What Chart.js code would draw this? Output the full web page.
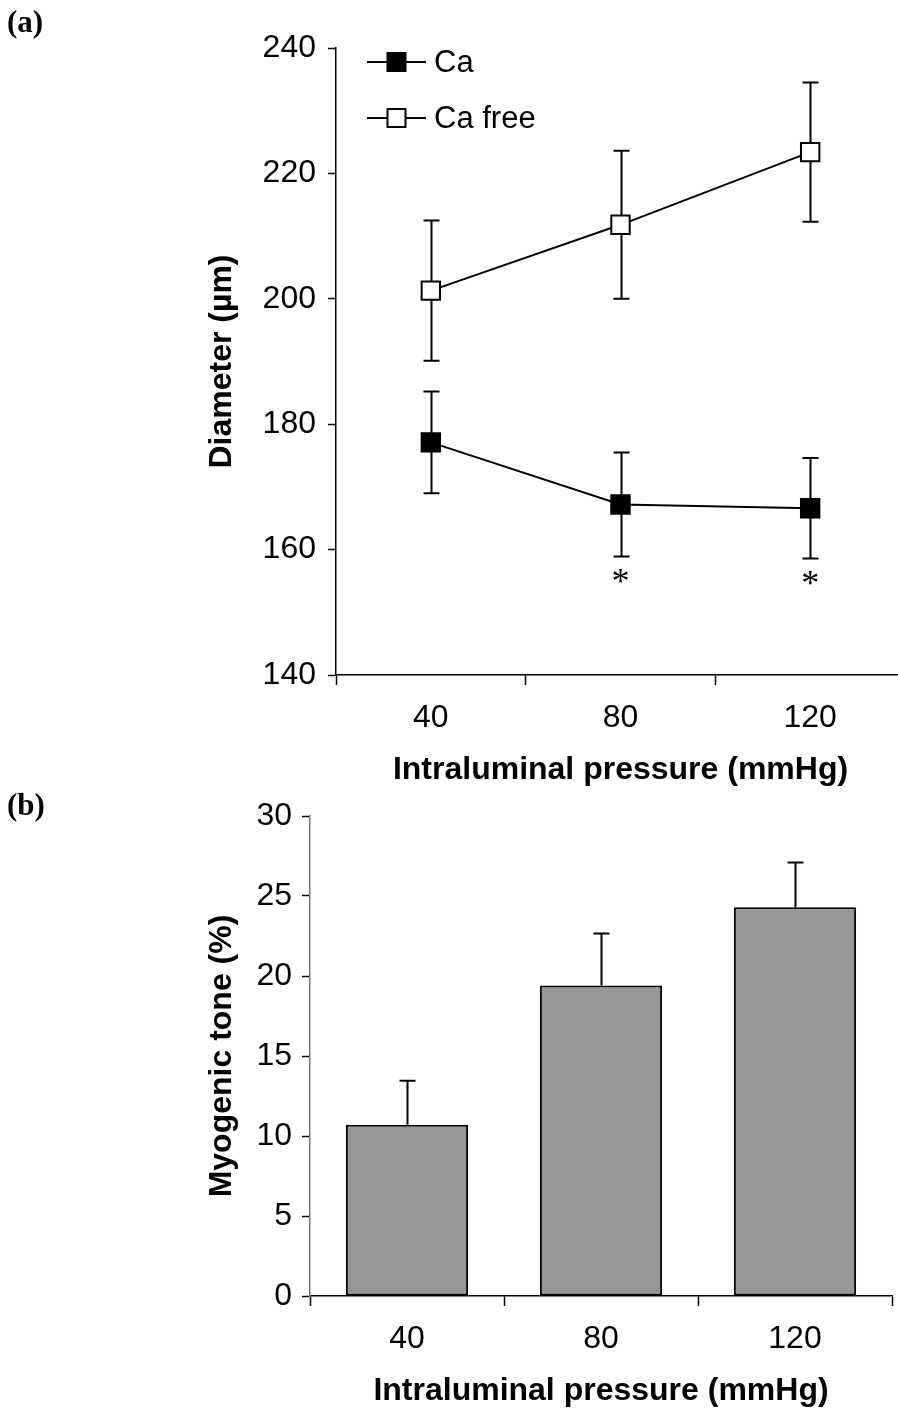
<!DOCTYPE html>
<html>
<head>
<meta charset="utf-8">
<script src="https://cdn.jsdelivr.net/npm/chart.js@4.4.1/dist/chart.umd.min.js"></script>
<style>
  html, body { margin: 0; padding: 0; background: #fff; overflow: hidden; }
  body { width: 898px; height: 1411px; position: relative; }
  canvas { position: absolute; left: 0; }
  #chartA { top: 0; }
  #chartB { top: 780px; }
  .panel {
    position: absolute;
    font-family: "Liberation Serif", "Times New Roman", serif;
    font-weight: bold;
    font-size: 31px;
    color: #000;
    line-height: 1;
  }
</style>
</head>
<body>
<canvas id="chartA" width="920" height="800"></canvas>
<canvas id="chartB" width="898" height="631"></canvas>
<div class="panel" style="left:7px; top:6px;">(a)</div>
<div class="panel" style="left:7px; top:789px;">(b)</div>

<script>
// ---- data ----
const pressureLabels = ['40', '80', '120'];

// (a) vessel diameter, mean and SEM
const caMean      = [177.1, 167.2, 166.6];
const caSem       = [8.1, 8.3, 8.0];
const caFreeMean  = [201.3, 211.8, 223.4];
const caFreeSem   = [11.2, 11.8, 11.1];
const caSignificant = [false, true, true];

const diameterMin = 140, diameterMax = 240, diameterStep = 20;

// (b) myogenic tone, mean and SEM
const toneMean = [10.7, 19.4, 24.3];
const toneSem  = [2.75, 3.25, 2.8];

const toneMin = 0, toneMax = 30, toneStep = 5;

// ---- shared styling ----
const SANS = '"Liberation Sans", Arial, Helvetica, sans-serif';
const SERIF = '"Liberation Serif", "Times New Roman", serif';
const tickFont = { family: SANS, size: 32 };
const titleFont = { family: SANS, size: 32, weight: 'bold' };

// Error bars: vertical whisker with caps
const errorBarPlugin = {
  id: 'errorBars',
  beforeDatasetsDraw(chart) {
    const cfg = chart.options.plugins.errorBars;
    if (!cfg || cfg.layer !== 'before') return;
    drawErrorBars(chart, cfg);
  },
  afterDatasetsDraw(chart) {
    const cfg = chart.options.plugins.errorBars;
    if (!cfg || cfg.layer !== 'after') return;
    drawErrorBars(chart, cfg);
  }
};

function drawErrorBars(chart, cfg) {
  const ctx = chart.ctx;
  const yScale = chart.scales.y;
  ctx.save();
  ctx.strokeStyle = '#000';
  ctx.lineWidth = cfg.lineWidth;
  ctx.lineCap = 'butt';
  chart.data.datasets.forEach((ds, di) => {
    const sem = cfg.sem[di];
    if (!sem) return;
    const meta = chart.getDatasetMeta(di);
    meta.data.forEach((el, i) => {
      const x = Math.round(el.x) + 0.5;
      const m = ds.data[i];
      const yHi = yScale.getPixelForValue(m + sem[i]);
      const yLo = cfg.upperOnly ? yScale.getPixelForValue(m) : yScale.getPixelForValue(m - sem[i]);
      ctx.beginPath();
      ctx.moveTo(x, yHi);
      ctx.lineTo(x, yLo);
      ctx.moveTo(x - cfg.capHalf, yHi);
      ctx.lineTo(x + cfg.capHalf, yHi);
      if (!cfg.upperOnly) {
        ctx.moveTo(x - cfg.capHalf, yLo);
        ctx.lineTo(x + cfg.capHalf, yLo);
      }
      ctx.stroke();
    });
  });
  ctx.restore();
}

// Significance asterisks under the Ca series
const asteriskPlugin = {
  id: 'asterisks',
  afterDatasetsDraw(chart) {
    const cfg = chart.options.plugins.asterisks;
    if (!cfg) return;
    const ctx = chart.ctx;
    const yScale = chart.scales.y;
    const meta = chart.getDatasetMeta(cfg.dataset);
    ctx.save();
    ctx.fillStyle = '#000';
    ctx.font = '36px ' + SERIF;
    ctx.textAlign = 'center';
    ctx.textBaseline = 'alphabetic';
    cfg.flags.forEach((flag, i) => {
      if (!flag) return;
      const el = meta.data[i];
      const y = yScale.getPixelForValue(caMean[i] - caSem[i]);
      ctx.fillText('*', el.x, y + 37);
    });
    ctx.restore();
  }
};

// Legend with a line through each marker, placed inside the plot area
const lineLegendPlugin = {
  id: 'lineLegend',
  afterDraw(chart) {
    const cfg = chart.options.plugins.lineLegend;
    if (!cfg) return;
    const ctx = chart.ctx;
    const area = chart.chartArea;
    ctx.save();
    chart.data.datasets.forEach((ds, i) => {
      const y = area.top + cfg.firstRow + i * cfg.rowGap;
      const x0 = area.left + cfg.lineStart;
      const x1 = x0 + cfg.lineLength;
      const cx = (x0 + x1) / 2;
      ctx.strokeStyle = '#000';
      ctx.lineWidth = 2;
      ctx.beginPath();
      ctx.moveTo(x0, y);
      ctx.lineTo(x1, y);
      ctx.stroke();
      const s = cfg.marker;
      ctx.fillStyle = ds.pointBackgroundColor;
      ctx.fillRect(cx - s / 2, y - s / 2, s, s);
      ctx.strokeRect(cx - s / 2, y - s / 2, s, s);
      ctx.fillStyle = '#000';
      ctx.font = cfg.fontSize + 'px ' + SANS;
      ctx.textAlign = 'left';
      ctx.textBaseline = 'middle';
      ctx.fillText(ds.label, x1 + cfg.textGap, y + 1);
    });
    ctx.restore();
  }
};

function axisGrid(tickLength) {
  return {
    display: true,
    drawOnChartArea: false,
    drawTicks: true,
    tickLength: tickLength,
    tickColor: '#000',
    tickWidth: 1.5
  };
}

// ---- (a) diameter vs pressure ----
new Chart(document.getElementById('chartA'), {
  type: 'line',
  data: {
    labels: pressureLabels,
    datasets: [
      {
        label: 'Ca',
        data: caMean,
        borderColor: '#000',
        borderWidth: 2,
        pointStyle: 'rect',
        pointRadius: 13,
        pointBorderWidth: 2,
        pointBorderColor: '#000',
        pointBackgroundColor: '#000',
        tension: 0,
        fill: false
      },
      {
        label: 'Ca free',
        data: caFreeMean,
        borderColor: '#000',
        borderWidth: 2,
        pointStyle: 'rect',
        pointRadius: 13,
        pointBorderWidth: 2,
        pointBorderColor: '#000',
        pointBackgroundColor: '#fff',
        tension: 0,
        fill: false
      }
    ]
  },
  options: {
    responsive: false,
    animation: false,
    events: [],
    layout: { padding: { left: 0, top: 48, right: 14, bottom: 0 } },
    plugins: {
      legend: { display: false },
      tooltip: { enabled: false },
      errorBars: { sem: [caSem, caFreeSem], capHalf: 8, lineWidth: 2, upperOnly: false, layer: 'before' },
      asterisks: { dataset: 0, flags: caSignificant },
      lineLegend: { firstRow: 14, rowGap: 56, lineStart: 31, lineLength: 59, marker: 18, textGap: 8, fontSize: 31 }
    },
    scales: {
      x: {
        type: 'category',
        offset: true,
        grid: Object.assign(axisGrid(10), { offset: true }),
        border: { display: true, color: '#000', width: 1.5 },
        ticks: { color: '#000', font: tickFont, padding: 14, maxRotation: 0 },
        title: { display: true, text: 'Intraluminal pressure (mmHg)', color: '#000', font: titleFont, padding: { top: 0, bottom: 11 } },
        afterFit(scale) { scale.height = 125; }
      },
      y: {
        min: diameterMin,
        max: diameterMax,
        ticks: { stepSize: diameterStep, color: '#000', font: tickFont, padding: 12 },
        grid: axisGrid(8),
        border: { display: true, color: '#000', width: 1.5 },
        title: { display: true, text: 'Diameter (µm)', color: '#000', font: titleFont, padding: { top: 203, bottom: 0 } },
        afterFit(scale) { scale.width = 336; }
      }
    }
  },
  plugins: [errorBarPlugin, asteriskPlugin, lineLegendPlugin]
});

// ---- (b) myogenic tone vs pressure ----
new Chart(document.getElementById('chartB'), {
  type: 'bar',
  data: {
    labels: pressureLabels,
    datasets: [
      {
        label: 'Myogenic tone',
        data: toneMean,
        backgroundColor: '#969696',
        borderColor: '#000',
        borderWidth: 2,
        borderSkipped: false,
        categoryPercentage: 1,
        barPercentage: 0.63
      }
    ]
  },
  options: {
    responsive: false,
    animation: false,
    events: [],
    layout: { padding: { left: 0, top: 36, right: 6, bottom: 0 } },
    plugins: {
      legend: { display: false },
      tooltip: { enabled: false },
      errorBars: { sem: [toneSem], capHalf: 8, lineWidth: 2, upperOnly: true, layer: 'after' }
    },
    scales: {
      x: {
        type: 'category',
        offset: true,
        grid: Object.assign(axisGrid(10), { offset: true }),
        border: { display: true, color: '#000', width: 1.5 },
        ticks: { color: '#000', font: tickFont, padding: 14, maxRotation: 0 },
        title: { display: true, text: 'Intraluminal pressure (mmHg)', color: '#000', font: titleFont, padding: { top: 0, bottom: 1 } },
        afterFit(scale) { scale.height = 115; }
      },
      y: {
        min: toneMin,
        max: toneMax,
        ticks: { stepSize: toneStep, color: '#000', font: tickFont, padding: 10 },
        grid: axisGrid(8),
        border: { display: true, color: '#777', width: 1.5 },
        title: { display: true, text: 'Myogenic tone (%)', color: '#000', font: titleFont, padding: { top: 203, bottom: 0 } },
        afterFit(scale) { scale.width = 310; }
      }
    }
  },
  plugins: [errorBarPlugin]
});
</script>
</body>
</html>
